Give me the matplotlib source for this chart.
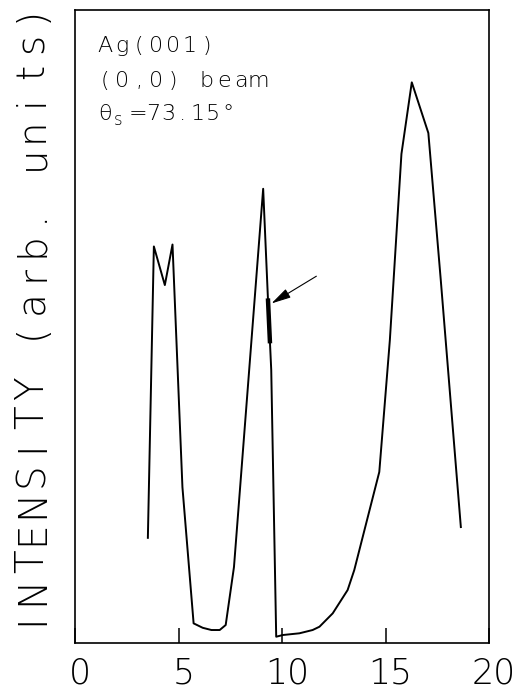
import matplotlib.pyplot as plt
import matplotlib.transforms as mtransforms

# electron energy (eV) and specular (0,0) intensity, arbitrary units
energy = [3.52, 3.81, 4.34, 4.71, 5.19, 5.73, 6.17, 6.59, 6.99, 7.28, 7.68,
          9.09, 9.32, 9.48, 9.72, 10.04, 10.84, 11.48, 11.81, 12.45, 13.17,
          13.49, 14.70, 15.21, 15.77, 16.27, 17.07, 17.67, 18.64]
intensity = [16.6, 62.6, 56.5, 62.9, 24.6, 3.1, 2.4, 2.05, 2.05, 2.84, 12.0,
             71.7, 54.4, 43.1, 0.99, 1.26, 1.53, 2.05, 2.57, 4.68, 8.36,
             11.5, 27.0, 47.8, 77.2, 88.5, 80.5, 57.3, 18.3]

# short stretch on the falling edge of the 9 eV peak that is marked by the arrow
marked_e = [9.32, 9.42]
marked_i = [54.4, 47.3]
arrow_tip = (9.49, 53.6)
arrow_tail = (11.66, 57.9)

xticks = [0, 5, 10, 15, 20]
xlabels = ['0', '5', '10', '15', '20']
ylabel = 'INTENSITY (arb. units)'

W, H = 523, 698
FONT = ['DejaVu Sans']
WEIGHT = 200

fig = plt.figure(figsize=(W / 100, H / 100), dpi=100)
ax = fig.add_axes([75 / W, 55 / H, 414 / W, 633.5 / H])


def lettering(x, y, s, pitch, size, vertical=False, **kw):
    # plotter-style lettering: every glyph sits in its own fixed-width cell (pixels)
    for i, ch in enumerate(s):
        if vertical:
            fig.text(x / W, 1 - (y - i * pitch) / H, ch, rotation=90,
                     rotation_mode='anchor', ha='center', va='baseline',
                     fontsize=size, family=FONT, fontweight=WEIGHT, **kw)
        else:
            fig.text((x + i * pitch) / W, 1 - y / H, ch, ha='center',
                     va='baseline', fontsize=size, family=FONT,
                     fontweight=WEIGHT, **kw)


ax.plot(energy, intensity, color='k', lw=1.4)
ax.plot(marked_e, marked_i, color='k', lw=3.2, solid_capstyle='butt')
ax.annotate('', xy=arrow_tip, xytext=arrow_tail,
            arrowprops=dict(arrowstyle='-|>,head_length=1.2,head_width=0.3',
                            lw=0.8, color='k', shrinkA=0, shrinkB=0))

ax.set_xlim(0, 20)
ax.set_ylim(0, 100)
ax.set_yticks([])
ax.set_xticks(xticks)
ax.set_xticklabels(xlabels, fontsize=25, family=FONT, fontweight=WEIGHT)
ax.tick_params(axis='x', direction='in', length=10.8, width=1.1, pad=10)
# numbers sit a little right of their ticks
shift = mtransforms.ScaledTranslation(5 / 100, 0, fig.dpi_scale_trans)
for lab in ax.get_xticklabels():
    lab.set_transform(lab.get_transform() + shift)
for sp in ax.spines.values():
    sp.set_linewidth(1.2)

# sample / beam notes in the upper left corner
lettering(105, 52, 'Ag(001)', 17, 16)
lettering(105, 87, '(0,0) beam', 17, 16)
lettering(105, 120, 'θ', 17, 16)
lettering(118, 125, 's', 17, 12)
lettering(138, 120, '=73.15°', 15, 16)

lettering(43, 619, ylabel, 28.8, 28, vertical=True)

fig.savefig('out.png', dpi=100)
